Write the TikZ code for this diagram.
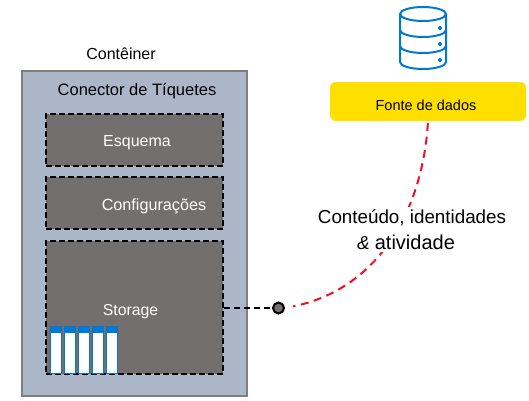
\documentclass[tikz,border=0pt]{standalone}
\usepackage{fontspec}
\setmainfont{Liberation Sans}
\definecolor{contfill}{HTML}{ABB6C9}
\definecolor{contline}{HTML}{7F7F7F}
\definecolor{boxfill}{HTML}{736F6E}
\definecolor{srcfill}{HTML}{FFDF00}
\definecolor{azure}{HTML}{0078D4}
\definecolor{reddash}{HTML}{F01020}
\tikzset{
  x=1pt,y=-1pt,
  txt/.style={inner sep=0pt,text=black},
  whitetxt/.style={inner sep=0pt,text=white},
  container/.style={draw=contline,fill=contfill,line width=2.2pt,minimum width=225pt,minimum height=325pt,inner sep=0pt},
  part/.style={draw=black,fill=boxfill,line width=2.2pt,dash pattern=on 6pt off 3pt,minimum width=177pt,inner sep=0pt},
  source/.style={fill=srcfill,rounded corners=6pt,minimum width=196pt,minimum height=39pt,inner sep=0pt},
  hub/.style={circle,draw=black,fill=boxfill,line width=2pt,minimum size=11pt,inner sep=0pt},
  linkblack/.style={draw=black,line width=2.2pt,dash pattern=on 6pt off 4pt},
  linkred/.style={draw=reddash,line width=2pt,dash pattern=on 8pt off 5.5pt},
  colbody/.style={draw=azure,fill=white,line width=1pt,minimum width=11pt,minimum height=46pt,inner sep=0pt},
  colhead/.style={fill=azure,minimum width=12pt,minimum height=7.5pt,inner sep=0pt},
  iconline/.style={draw=azure,line width=2pt},
}
\begin{document}
\begin{tikzpicture}
\useasboundingbox (0,0) rectangle (529,400);
\node[txt,font=\fontsize{16}{19}\selectfont] (lblcont) at (121,53.5) {Contêiner};
\node[container] (cont) at (134.5,233.5) {};
\node[txt,font=\fontsize{16.5}{19}\selectfont] (lblconn) at (137,91) {Conector de Tíquetes};
\node[part,minimum height=52pt] (esq) at (134.5,140) {};
\node[whitetxt,font=\fontsize{16}{19}\selectfont] (esqt) at (137,143) {Esquema};
\node[part,minimum height=52pt] (cfg) at (134.5,203) {};
\node[whitetxt,font=\fontsize{16.2}{19}\selectfont] (cfgt) at (154,206) {Configurações};
\node[part,minimum height=133pt] (sto) at (134.5,307.5) {};
\node[whitetxt,font=\fontsize{15.8}{19}\selectfont] (stot) at (130.5,312) {Storage};
\foreach \n/\cx in {1/56,2/70,3/84,4/98,5/112}{
  \node[colbody] (c\n) at (\cx,350) {};
  \node[colhead] (h\n) at (\cx,329.5) {};
}
\node[hub] (hub) at (278.5,308) {};
\draw[linkblack] (sto.east |- hub) -- (hub.west);
% database icon
\draw[iconline] (400,14) -- (400,62) arc[start angle=180,end angle=360,x radius=23,y radius=-7] -- (446,14);
\draw[iconline] (423,14) ellipse[x radius=23,y radius=7];
\draw[iconline] (400,30) arc[start angle=180,end angle=360,x radius=23,y radius=-7];
\draw[iconline] (400,46) arc[start angle=180,end angle=360,x radius=23,y radius=-7];
\foreach \dy in {28,44,60}{\fill[azure] (440,\dy) circle[radius=2pt];}
\node[source] (src) at (428,101.5) {};
\node[txt,font=\fontsize{14.5}{17}\selectfont] (srct) at (426,105) {Fonte de dados};
\draw[linkred,shorten <=2pt,shorten >=8pt] (src.south) .. controls (422,215) and (375,290) .. (hub.east);
\node[fill=white,inner sep=2pt,align=center,font=\fontsize{18.8}{26}\selectfont] (lbl) at (412,229.5) {Conteúdo, identidades\\\textit{\&} {\fontsize{20}{26}\selectfont atividade}\hspace*{12pt}};
\end{tikzpicture}
\end{document}
